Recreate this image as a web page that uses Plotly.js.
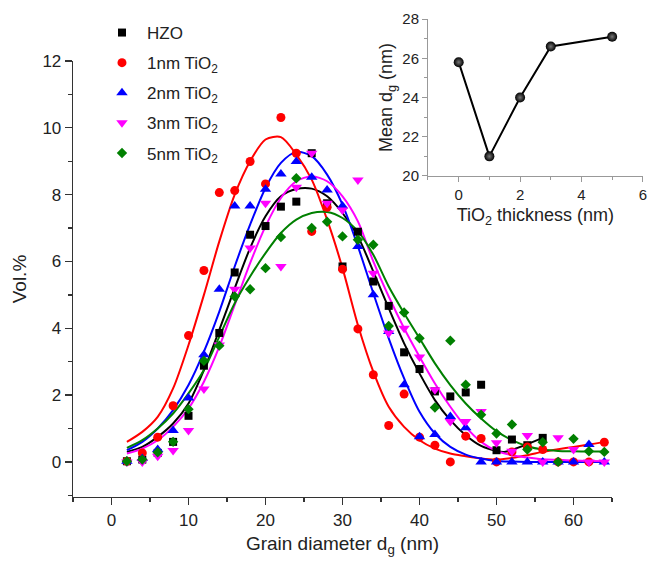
<!DOCTYPE html>
<html>
<head>
<meta charset="utf-8">
<script src="https://cdn.plot.ly/plotly-3.0.1.min.js"></script>
<style>html,body{margin:0;padding:0;background:#fff;}#chart{width:649px;height:566px;}</style>
</head>
<body>
<div id="chart"></div>
<script>
// ---- scatter data (grain diameter, nm) ----
const dg = [2,4,6,8,10,12,14,16,18,20,22,24,26,28,30,32,34,36,38,40,42,44,46,48,50,52,54,56,58,60,62,64];
const dgHZO = [2,4,6,8,10,12,14,16,18,20,22,24,26,28,30,32,34,36,38,40,42,44,46,48,50,52,54,56];
const volHZO = [0.02,0.07,0.27,0.6,1.38,2.88,3.86,5.67,6.8,7.06,7.64,7.79,9.24,7.74,5.85,6.89,5.4,4.67,3.28,2.78,2.11,1.96,2.08,2.31,0.35,0.67,0.5,0.72];
const vol1nm = [0.02,0.27,0.74,1.68,3.78,5.73,8.06,8.12,8.99,8.32,10.31,9.24,6.9,7.62,5.77,3.98,2.61,1.09,2.03,0.74,0.5,0.0,0.77,0.7,0.0,0.3,0.45,0.37,0.0,0.0,0.0,0.59];
const vol2nm = [0.02,0.1,0.37,0.94,1.91,3.21,5.17,7.66,7.66,8.16,8.62,8.99,8.52,8.14,7.66,6.45,5.0,3.9,2.31,0.75,0.82,1.36,1.02,0,0,0,0,0,0,0,0.52,0];
const vol3nm = [0.0,0.0,0.17,0.34,0.94,2.18,3.5,5.17,6.4,7.74,5.85,8.22,9.24,7.74,7.54,8.44,5.65,3.86,4.0,3.14,2.16,1.21,1.21,1.51,0.57,0.32,0.79,0.0,0.72,0.37,0.0,0.0];
const vol5nm = [0.02,0.07,0.29,0.6,1.58,3.03,3.48,4.95,5.17,5.8,6.73,8.49,7.0,7.19,6.75,6.65,6.5,4.07,4.47,3.7,1.63,3.63,2.31,1.41,0.85,1.12,0.37,0.59,0.0,0.69,0.32,0.3];

// ---- fitted curves ----
const fitX = [2,4,6,8,10,12,14,16,18,20,22,24,26,28,30,32,34,36,38,40,42,44,46,48,50,52,54,56,58,60,62,64];
const fitHZOx = [2,4,6,8,10,12,14,16,18,20,22,24,26,28,30,32,34,36,38,40,42,44,46,48,50,51,56];
const fitHZO = [0.3,0.45,0.75,1.15,1.75,2.75,3.95,5.2,6.4,7.35,7.95,8.17,8.18,7.95,7.45,6.75,5.7,4.6,3.55,2.65,1.85,1.25,0.8,0.48,0.33,0.3,0.72];
const fit1nm = [0.6,0.9,1.35,2.2,3.5,5.0,6.6,8.0,9.0,9.65,9.72,9.2,8.45,7.25,5.8,4.1,2.7,1.65,1.05,0.65,0.4,0.25,0.17,0.1,0.07,0.12,0.2,0.3,0.38,0.45,0.52,0.6];
const fit2nm = [0.35,0.6,1.0,1.55,2.3,3.3,4.5,5.85,7.1,8.2,8.95,9.28,9.15,8.6,7.7,6.45,5.05,3.7,2.5,1.5,0.85,0.45,0.22,0.1,0.03,0.01,0,0,0,0,0,0];
const fit3nm = [0.25,0.4,0.65,1.05,1.6,2.4,3.45,4.7,5.95,7.05,7.9,8.4,8.55,8.4,7.95,7.2,6.0,4.95,4.0,3.15,2.35,1.65,1.05,0.6,0.33,0.2,0.13,0.08,0.06,0.04,0.03,0.02];
const fit5nm = [0.42,0.65,1.0,1.45,2.05,2.75,3.75,4.75,5.55,6.25,6.85,7.25,7.45,7.48,7.3,6.9,6.2,5.25,4.45,3.7,2.95,2.3,1.75,1.3,0.92,0.65,0.47,0.37,0.33,0.32,0.31,0.31];

// ---- inset: mean grain size vs TiO2 thickness ----
const tio2Thick = [0,1,2,3,5];
const meanDg = [25.8,21.0,24.0,26.6,27.1];

const names = ['HZO','1nm TiO<sub>2</sub>','2nm TiO<sub>2</sub>','3nm TiO<sub>2</sub>','5nm TiO<sub>2</sub>'];
const colors = ['#000000','#ff0000','#0000ff','#ff00ff','#008000'];
const symbols = ['square','circle','triangle-up','triangle-down','diamond'];
const sizes = [8,9,10,10,8];
const ptX = [dgHZO,dg,dg,dg,dg];
const ptY = [volHZO,vol1nm,vol2nm,vol3nm,vol5nm];
const fX = [fitHZOx,fitX,fitX,fitX,fitX];
const fY = [fitHZO,fit1nm,fit2nm,fit3nm,fit5nm];

const FONT = 'Arial, "Liberation Sans", sans-serif';
const traces = [];
for (let i = 0; i < 5; i++) {
  traces.push({x: fX[i], y: fY[i], mode: 'lines', type: 'scatter', showlegend: false,
    line: {color: colors[i], width: 2, shape: 'spline', smoothing: 0.8}, hoverinfo: 'skip', xaxis: 'x', yaxis: 'y'});
}
for (let i = 0; i < 5; i++) {
  traces.push({x: ptX[i], y: ptY[i], mode: 'markers', type: 'scatter', name: names[i],
    legendgroup: 'g' + i,
    marker: {symbol: symbols[i], size: sizes[i], color: colors[i], line: {width: 0}}, xaxis: 'x', yaxis: 'y'});
}
traces.push({x: tio2Thick, y: meanDg, mode: 'lines+markers', type: 'scatter', showlegend: false,
  line: {color: '#000', width: 2},
  marker: {symbol: 'circle', size: 10, color: '#000', gradient: {type: 'radial', color: '#777'}, line: {width: 0}},
  xaxis: 'x2', yaxis: 'y2'});

const axBase = {showline: true, linewidth: 1.3, showgrid: false, zeroline: false, ticks: 'outside', tickwidth: 1.3};
const layout = {
  width: 649, height: 566,
  margin: {l: 73, r: 5, t: 15, b: 69},
  paper_bgcolor: '#fff', plot_bgcolor: 'rgba(0,0,0,0)',
  font: {family: FONT, color: '#222'},
  showlegend: true,
  legend: {x: 0.042, y: 1.0, xanchor: 'left', yanchor: 'top', bgcolor: 'rgba(0,0,0,0)',
    font: {size: 17, family: FONT, color: '#222'}, itemwidth: 40, tracegroupgap: 5},
  xaxis: Object.assign({}, axBase, {domain: [0, 0.944], range: [-5, 65], dtick: 10, tick0: 0, ticklen: 7,
    linecolor: '#333', tickcolor: '#333', tickfont: {size: 17, family: FONT, color: '#222'},
    minor: {ticks: 'outside', dtick: 5, ticklen: 4, tickcolor: '#333', tickwidth: 1.3},
    title: {text: 'Grain diameter d<sub>g</sub> (nm)', font: {size: 19, family: FONT, color: '#222'}, standoff: 8}}),
  yaxis: Object.assign({}, axBase, {domain: [0, 0.9046], range: [-1.05, 12], dtick: 2, tick0: 0, ticklen: 7,
    linecolor: '#333', tickcolor: '#333', tickfont: {size: 17, family: FONT, color: '#222'},
    minor: {ticks: 'outside', dtick: 1, ticklen: 4, tickcolor: '#333', tickwidth: 1.3},
    title: {text: 'Vol.%', font: {size: 19, family: FONT, color: '#222'}, standoff: 10}}),
  xaxis2: Object.assign({}, axBase, {anchor: 'y2', domain: [0.6217, 0.998], range: [-1, 6], dtick: 2, tick0: 0, ticklen: 5,
    linecolor: '#999', tickcolor: '#999', linewidth: 1, tickwidth: 1, tickfont: {size: 15, family: FONT, color: '#222'},
    minor: {ticks: 'outside', dtick: 1, ticklen: 3, tickcolor: '#999'},
    title: {text: 'TiO<sub>2</sub> thickness (nm)', font: {size: 18, family: FONT, color: '#222'}, standoff: 6}}),
  yaxis2: Object.assign({}, axBase, {anchor: 'x2', domain: [0.666, 0.9917], range: [20, 28], dtick: 2, tick0: 20, ticklen: 5,
    linecolor: '#999', tickcolor: '#999', linewidth: 1, tickwidth: 1, tickfont: {size: 15, family: FONT, color: '#222'},
    minor: {ticks: 'outside', dtick: 1, ticklen: 3, tickcolor: '#999'},
    title: {text: 'Mean d<sub>g</sub> (nm)', font: {size: 18, family: FONT, color: '#222'}, standoff: 4}})
};
Plotly.newPlot('chart', traces, layout, {displayModeBar: false, staticPlot: true});
</script>
</body>
</html>
